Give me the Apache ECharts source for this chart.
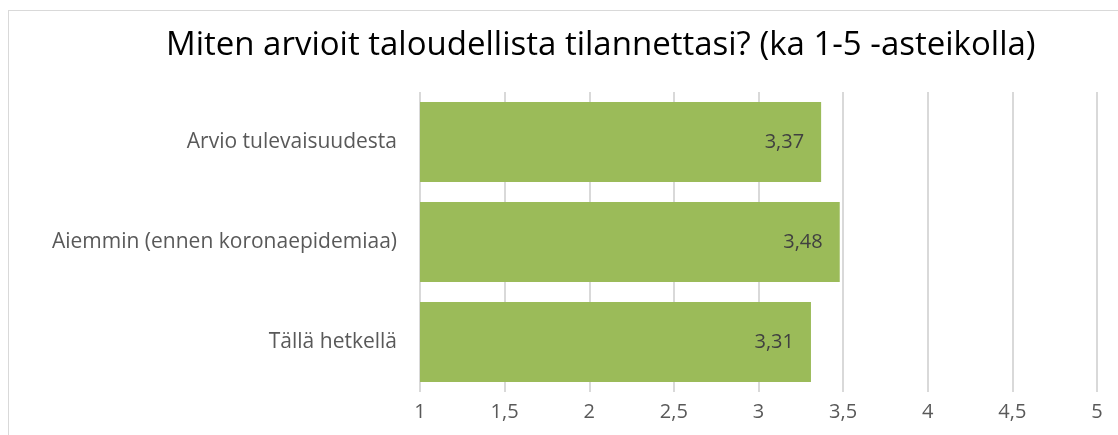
<!DOCTYPE html>
<html><head><meta charset="utf-8">
<script src="https://cdn.jsdelivr.net/npm/echarts@6/dist/echarts.min.js"></script>
<style>html,body{margin:0;padding:0;background:#fff}#c{width:1118px;height:435px}
#frame{position:absolute;left:8px;top:10px;width:1200px;height:500px;border:1.5px solid #d9d9d9;pointer-events:none}</style>
</head><body><div id="c"></div><div id="frame"></div>
<script>
const titleText = 'Miten arvioit taloudellista tilannettasi? (ka 1-5 -asteikolla)';
const categories = ['Tällä hetkellä', 'Aiemmin (ennen koronaepidemiaa)', 'Arvio tulevaisuudesta'];
const values = [3.31, 3.48, 3.37];
const axisMin = 1, axisMax = 5, axisStep = 0.5;
const fmt = v => String(v).replace('.', ',');
const chart = echarts.init(document.getElementById('c'));
chart.setOption({
  animation: false,
  title: { text: titleText, left: 161, top: 24,
    textStyle: { fontFamily: 'Open Sans', fontSize: 33, fontWeight: 'normal', color: '#000' } },
  grid: { left: 420, right: 21, top: 92, bottom: 43 },
  xAxis: { type: 'value', min: axisMin, max: axisMax, interval: axisStep,
    axisLine: { show: false }, axisTick: { show: false },
    splitLine: { show: true, lineStyle: { color: '#d9d9d9', width: 2 } },
    axisLabel: { formatter: fmt, color: '#595959', fontFamily: 'Open Sans', fontSize: 20, margin: 10 } },
  yAxis: { type: 'category', data: categories,
    axisLine: { show: false }, axisTick: { show: false },
    axisLabel: { color: '#595959', fontFamily: 'Open Sans', fontSize: 21, margin: 23 } },
  series: [{ type: 'bar', data: values, barCategoryGap: '20%',
    itemStyle: { color: '#9bbb59' },
    label: { show: true, position: 'insideRight', distance: 17, formatter: p => fmt(p.value),
      color: '#404040', fontFamily: 'Open Sans', fontSize: 20 } }]
});
</script></body></html>
